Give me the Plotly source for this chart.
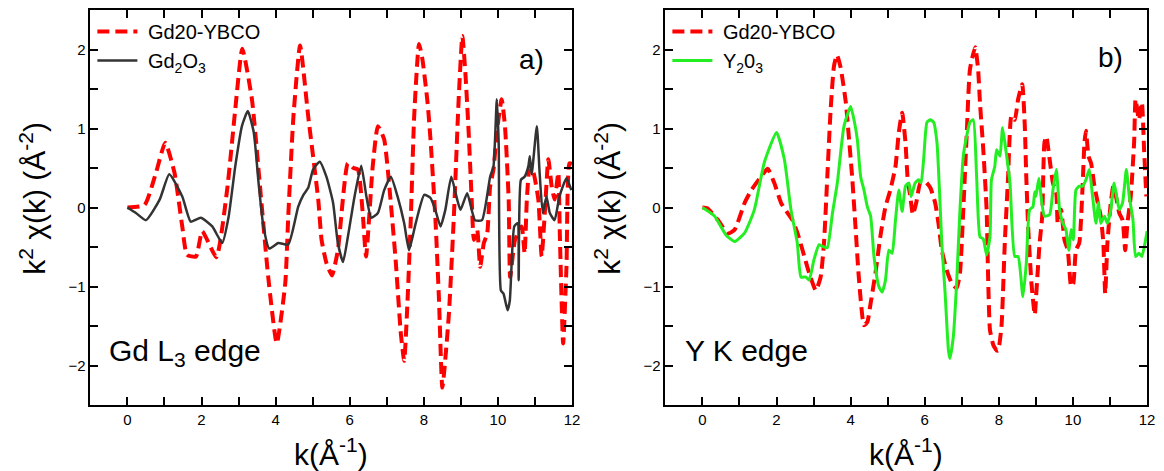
import plotly.graph_objects as go

# ---------------- data ----------------
ka_red = [0, 0.46, 0.77, 1.02, 1.27, 1.48, 1.61, 1.85, 2.02, 2.4, 2.69, 2.91, 3.1, 3.36, 3.58, 3.8, 4.03, 4.26, 4.34, 4.48,
          4.66, 4.88, 5.15, 5.24, 5.37, 5.52, 5.68, 5.95, 6.1, 6.22, 6.35, 6.44, 6.62, 6.76, 6.93, 7.1, 7.24, 7.38, 7.47, 7.56,
          7.65, 7.74, 7.87, 7.96, 8.1, 8.18, 8.31, 8.41, 8.5, 8.67, 8.81, 8.94, 9.04, 9.12, 9.21, 9.3, 9.35, 9.44, 9.52, 9.62,
          9.71, 9.79, 9.88, 9.97, 10.1, 10.19, 10.29, 10.33, 10.46, 10.64, 10.72, 10.78, 10.86, 10.96, 11.09, 11.18, 11.27,
          11.36, 11.45, 11.53, 11.63, 11.67, 11.76, 11.85, 11.93, 12.0]
va_red = [0, 0.03, 0.44, 0.82, 0.44, -0.24, -0.6, -0.62, -0.3, -0.63, 0.22, 1.24, 2.01, 1.37, 0.26, -0.88, -1.72, -0.96, -0.12, 1.15,
          2.05, 1.15, 0.1, -0.41, -0.7, -0.86, -0.54, 0.56, 0.5, 0.48, -0.07, -0.62, 0.52, 1.03, 0.86, 0.1, -0.67, -1.6, -1.94, -1.18,
          -0.12, 1.16, 2.07, 1.88, 1.33, 0.86, -0.12, -1.18, -2.28, -1.39, -0.12, 1.37, 2.17, 1.71, 0.95, 0.01, -0.41, -0.28, -0.75, -0.45,
          -0.33, 0.27, 0.48, 0.95, 1.37, 1.03, 0.1, -0.88, -0.41, -0.24, -0.58, 0.1, 0.52, 0.44, 0.1, -0.62, -0.03,
          0.61, 0.27, 0.1, 0.44, -0.33, -1.72, -0.75, 0.56, 0.55]

ka_blk = [0, 0.23, 0.5, 0.87, 1.13, 1.48, 1.71, 1.98, 2.29, 2.56, 2.73, 2.91, 3.09, 3.25, 3.41, 3.54, 3.67, 3.83, 4.07, 4.34,
          4.61, 4.75, 4.88, 5.01, 5.19, 5.37, 5.55, 5.68, 5.82, 5.95, 6.13, 6.31, 6.45, 6.58, 6.76, 6.93, 7.11, 7.29, 7.47, 7.6,
          7.78, 8.01, 8.18, 8.31, 8.45, 8.58, 8.74, 8.9, 8.99, 9.17, 9.38, 9.57, 9.79, 9.88, 9.97, 10.02, 10.08, 10.15, 10.26,
          10.32, 10.44, 10.53, 10.56, 10.62, 10.72, 10.82, 10.86, 10.91, 11.05, 11.12, 11.21, 11.31, 11.4, 11.53, 11.66, 11.85, 11.98]
va_blk = [0, -0.07, -0.16, 0.1, 0.42, 0.14, -0.18, -0.13, -0.24, -0.45, -0.12, 0.52, 1.03, 1.22, 0.95, 0.31, -0.24, -0.52, -0.45, -0.47,
          0.01, 0.16, 0.25, 0.48, 0.58, 0.39, 0.06, -0.45, -0.69, -0.37, 0.14, 0.53, 0.14, -0.13, -0.07, 0.22, 0.39, 0.14, -0.2, -0.54,
          -0.2, 0.16, 0.12, -0.03, -0.24, -0.03, 0.39, 0.1, -0.03, 0.18, -0.16, -0.16, 0.39, 0.52, 1.37, 0.82, -1.05, -1.09, -1.3,
          -1.18, -0.24, -0.2, -0.92, 0.35, 0.39, 0.52, 0.65, 0.42, 1.03, 0.48, -0.07, 0.14, -0.07, -0.16, 0.14, 0.37, 0.22]

kb_red = [0, 0.13, 0.42, 0.69, 0.87, 1.14, 1.32, 1.58, 1.76, 1.94, 2.12, 2.3, 2.43, 2.57, 2.75, 2.88, 3.06, 3.19, 3.28, 3.37,
          3.46, 3.55, 3.63, 3.73, 3.87, 3.95, 4.04, 4.13, 4.22, 4.36, 4.45, 4.54, 4.67, 4.8, 4.94, 5.07, 5.21, 5.3, 5.39, 5.48,
          5.54, 5.61, 5.68, 5.77, 5.88, 6.01, 6.15, 6.28, 6.37, 6.46, 6.59, 6.73, 6.86, 6.95, 7.04, 7.13, 7.22, 7.36, 7.44, 7.49,
          7.58, 7.67, 7.71, 7.76, 7.85, 7.94, 7.98, 8.07, 8.16, 8.25, 8.34, 8.43, 8.52, 8.63, 8.7, 8.74, 8.79, 8.88, 8.97, 9.01,
          9.1, 9.17, 9.23, 9.28, 9.37, 9.46, 9.55, 9.59, 9.68, 9.77, 9.86, 9.95, 10.01, 10.08, 10.17, 10.26, 10.31, 10.35, 10.42, 10.49,
          10.58, 10.67, 10.75, 10.82, 10.87, 10.93, 11.02, 11.09, 11.16, 11.25, 11.34, 11.41, 11.47, 11.56, 11.65, 11.69, 11.78, 11.86, 11.92, 11.98]
vb_red = [0, -0.01, -0.16, -0.33, -0.28, 0.06, 0.22, 0.39, 0.49, 0.31, 0.06, -0.07, -0.16, -0.33, -0.62, -0.83, -1.05, -0.88, -0.45, 0.39,
          1.24, 1.79, 1.93, 1.77, 1.33, 0.9, 0.39, -0.24, -0.88, -1.49, -1.45, -1.21, -0.83, -0.37, 0.01, 0.22, 0.52, 0.95, 1.2, 0.82,
          0.35, 0.14, -0.09, 0.06, 0.31, 0.33, 0.25, 0.06, -0.2, -0.54, -0.79, -0.96, -1.02, -0.83, -0.03, 0.9, 1.75, 2.03, 1.75, 1.33,
          0.73, -0.03, -0.88, -1.55, -1.74, -1.81, -1.81, -1.51, -0.45, 0.39, 1.16, 1.11, 1.37, 1.56, 1.03, 0.39, -0.24, -0.96, -1.36, -1.09,
          -0.45, -0.11, 0.82, 0.9, 0.61, 0.31, 0.18, -0.2, -0.03, -0.41, -0.54, -1.0, -0.96, -0.54, -0.45, 0.27, 0.82, 0.97, 0.65, 0.56,
          0.27, 0.06, -0.11, -0.45, -1.09, -0.45, 0.06, 0.27, 0.14, -0.07, -0.16, -0.54, -0.2, 0.14, 0.82, 1.37, 1.11, 1.33, 0.73, 0.14]

kb_grn = [0, 0.33, 0.64, 0.87, 1.14, 1.4, 1.67, 2.0, 2.21, 2.39, 2.56, 2.66, 2.79, 2.88, 3.01, 3.15, 3.28, 3.37, 3.51, 3.64,
          3.82, 4.0, 4.09, 4.18, 4.27, 4.36, 4.45, 4.54, 4.63, 4.76, 4.85, 4.94, 5.03, 5.12, 5.21, 5.3, 5.39, 5.48, 5.57, 5.63,
          5.74, 5.83, 5.9, 5.97, 6.06, 6.15, 6.24, 6.33, 6.4, 6.46, 6.55, 6.64, 6.68, 6.77, 6.86, 6.95, 7.04, 7.13, 7.22, 7.31,
          7.4, 7.49, 7.58, 7.67, 7.76, 7.8, 7.89, 7.94, 8.03, 8.1, 8.2, 8.3, 8.43, 8.52, 8.65, 8.74, 8.83, 8.92, 8.97, 9.0,
          9.08, 9.14, 9.23, 9.37, 9.46, 9.55, 9.64, 9.73, 9.81, 9.89, 9.95, 10.01, 10.08, 10.17, 10.26, 10.35, 10.44, 10.53, 10.62, 10.69,
          10.75, 10.85, 10.93, 11.02, 11.11, 11.18, 11.25, 11.34, 11.44, 11.52, 11.62, 11.69, 11.78, 11.86, 11.96, 12.0]
vb_grn = [0, -0.11, -0.35, -0.43, -0.32, -0.03, 0.57, 0.95, 0.61, -0.03, -0.45, -0.88, -0.88, -0.92, -0.66, -0.47, -0.5, -0.51, -0.07, 0.31,
          1.03, 1.28, 1.11, 0.86, 0.39, 0.22, 0.01, -0.11, -0.62, -1.0, -1.07, -0.92, -0.54, -0.58, -0.16, 0.22, -0.05, 0.27, 0.31, 0.14,
          0.31, 0.35, 0.31, 0.61, 1.08, 1.11, 1.08, 0.82, 0.19, -0.45, -1.09, -1.81, -1.91, -1.64, -0.96, -0.03, 0.65, 0.9, 1.08, 1.11,
          0.39, -0.37, -0.4, -0.6, -0.37, 0.35, 0.52, 0.73, 0.65, 1.01, 0.69, 0.31, -0.62, -0.62, -1.13, -0.71, -0.03, 0.01, 0.2, 0.14,
          0.37, 0.14, -0.11, -0.09, 0.22, 0.48, -0.03, -0.2, -0.28, -0.54, -0.28, -0.41, 0.22, 0.27, 0.27, 0.35, 0.48, 0.14, -0.2, 0.06,
          -0.2, -0.11, -0.2, -0.03, 0.31, 0.14, -0.03, 0.06, 0.48, 0.14, -0.16, -0.62, -0.58, -0.62, -0.41, -0.3]

assert len(ka_red) == len(va_red) and len(ka_blk) == len(va_blk)
assert len(kb_red) == len(vb_red) and len(kb_grn) == len(vb_grn)

name_sample = "Gd20-YBCO"
name_gd = "Gd<sub>2</sub>O<sub>3</sub>"
name_y = "Y<sub>2</sub>0<sub>3</sub>"
x_range = [-1, 12]
y_range = [-2.5, 2.5]

# ---------------- figure ----------------
W, H = 1164, 471
FONT = "Liberation Sans, Arial, sans-serif"
NB = "\u00a0"

def px_x(p):
    return p / W

def px_y(p):
    return 1 - p / H

dom_a = [px_x(91), px_x(576)]
dom_b = [px_x(670), px_x(1155)]
dom_y = [px_y(405), px_y(10)]

RED = "#ff0000"
DASH = "12px,6px"

fig = go.Figure()
fig.add_trace(go.Scatter(x=ka_red, y=va_red, name=NB + name_sample, mode="lines",
                         line=dict(color=RED, width=4, dash=DASH, shape="spline", smoothing=0.5),
                         xaxis="x", yaxis="y", legend="legend"))
fig.add_trace(go.Scatter(x=ka_blk, y=va_blk, name=NB + name_gd, mode="lines",
                         line=dict(color="#333333", width=2.5, shape="spline", smoothing=0.5),
                         xaxis="x", yaxis="y", legend="legend"))
fig.add_trace(go.Scatter(x=kb_red, y=vb_red, name=NB + name_sample, mode="lines",
                         line=dict(color=RED, width=4, dash=DASH, shape="spline", smoothing=0.5),
                         xaxis="x2", yaxis="y2", legend="legend2"))
fig.add_trace(go.Scatter(x=kb_grn, y=vb_grn, name=NB + name_y, mode="lines",
                         line=dict(color="#22ee22", width=3, shape="spline", smoothing=0.5),
                         xaxis="x2", yaxis="y2", legend="legend2"))

common = dict(showgrid=False, zeroline=False, showline=True, linecolor="black", linewidth=1.5,
              mirror="ticks", ticks="inside", ticklen=8, tickwidth=1.5, tickcolor="black",
              tickfont=dict(family=FONT, size=15, color="black"))

xax = dict(common, range=x_range, tick0=0, dtick=2,
           minor=dict(tick0=0, dtick=1, ticks="inside", ticklen=8, tickwidth=1.5, tickcolor="black"))
yax = dict(common, range=y_range, tick0=0, dtick=1,
           minor=dict(tick0=0, dtick=0.5, ticks="inside", ticklen=8, tickwidth=1.5, tickcolor="black"))

legend_common = dict(font=dict(family=FONT, size=20, color="black"), bgcolor="rgba(0,0,0,0)",
                     itemwidth=40, tracegroupgap=0, xanchor="left", yanchor="top")

fig.update_layout(
    width=W, height=H,
    margin=dict(l=0, r=0, t=0, b=0),
    paper_bgcolor="white", plot_bgcolor="white",
    xaxis=dict(xax, domain=dom_a, anchor="y"),
    yaxis=dict(yax, domain=dom_y, anchor="x"),
    xaxis2=dict(xax, domain=dom_b, anchor="y2"),
    yaxis2=dict(yax, domain=dom_y, anchor="x2"),
    legend=dict(legend_common, x=px_x(93), y=px_y(12)),
    legend2=dict(legend_common, x=px_x(672), y=px_y(12)),
    showlegend=True,
)

ann_font_big = dict(family=FONT, size=30, color="black")
anns = [
    dict(text="k(Å<sup>-1</sup>)", x=(dom_a[0] + dom_a[1]) / 2, y=px_y(452)),
    dict(text="k(Å<sup>-1</sup>)", x=(dom_b[0] + dom_b[1]) / 2, y=px_y(452)),
    dict(text="k<sup>2</sup> χ(k) (Å<sup>-2</sup>)", x=px_x(33), y=px_y(198), textangle=-90),
    dict(text="k<sup>2</sup> χ(k) (Å<sup>-2</sup>)", x=px_x(612), y=px_y(198), textangle=-90),
    dict(text="Gd L<sub>3</sub> edge", x=px_x(108), y=px_y(352), xanchor="left"),
    dict(text="Y K edge", x=px_x(688), y=px_y(350), xanchor="left"),
    dict(text="a)", x=px_x(535), y=px_y(60), font=dict(family=FONT, size=28, color="black")),
    dict(text="b)", x=px_x(1118), y=px_y(58), font=dict(family=FONT, size=28, color="black")),
]
for a in anns:
    a.setdefault("xanchor", "center")
    a.setdefault("yanchor", "middle")
    a.setdefault("font", ann_font_big)
    fig.add_annotation(xref="paper", yref="paper", showarrow=False, **a)

fig.write_html("out.html")
